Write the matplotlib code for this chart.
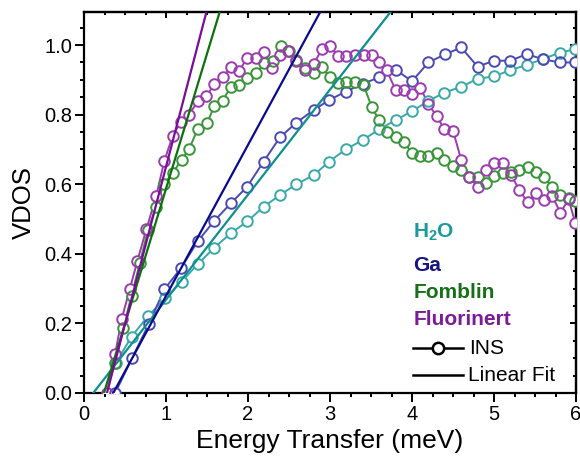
import matplotlib
matplotlib.use("Agg")
import matplotlib.pyplot as plt
from matplotlib.ticker import MultipleLocator
from matplotlib.lines import Line2D
import numpy as np

plt.rcParams['font.family'] = ['Liberation Sans', 'DejaVu Sans']
plt.rcParams['mathtext.fontset'] = 'custom'
plt.rcParams['mathtext.rm'] = 'Liberation Sans'
plt.rcParams['mathtext.bf'] = 'Liberation Sans:bold'

# INS data
h2o_e = [0.39, 0.58, 0.78, 0.99, 1.19, 1.39, 1.59, 1.79, 1.99, 2.19, 2.39, 2.59, 2.80, 2.99, 3.19,
         3.40, 3.60, 3.80, 4.00, 4.20, 4.39, 4.60, 4.80, 5.00, 5.20, 5.40, 5.60, 5.80, 5.99]
h2o_v = [0.087, 0.162, 0.221, 0.272, 0.32, 0.371, 0.418, 0.459, 0.493, 0.535, 0.569, 0.60, 0.626,
         0.665, 0.70, 0.727, 0.758, 0.784, 0.81, 0.839, 0.863, 0.88, 0.903, 0.91, 0.928, 0.943,
         0.96, 0.978, 0.988]

ga_e = [0.38, 0.59, 0.79, 0.98, 1.18, 1.39, 1.59, 1.79, 1.99, 2.19, 2.39, 2.59, 2.80, 2.99, 3.19,
        3.40, 3.60, 3.80, 4.00, 4.20, 4.40, 4.60, 4.80, 5.00, 5.20, 5.40, 5.60, 5.80, 5.99]
ga_v = [0.0, 0.102, 0.198, 0.298, 0.358, 0.437, 0.495, 0.545, 0.593, 0.665, 0.735, 0.777, 0.813,
        0.842, 0.866, 0.889, 0.907, 0.929, 0.896, 0.95, 0.973, 0.993, 0.938, 0.955, 0.955, 0.974,
        0.959, 0.95, 0.95]

fomblin_e = [0.38, 0.48, 0.58, 0.68, 0.78, 0.88, 0.97, 1.08, 1.19, 1.28, 1.39, 1.50, 1.59, 1.69,
             1.79, 1.89, 1.99, 2.10, 2.20, 2.30, 2.40, 2.50, 2.59, 2.70, 2.80, 2.90, 3.00, 3.10,
             3.20, 3.30, 3.41, 3.51, 3.60, 3.69, 3.80, 3.90, 4.00, 4.10, 4.20, 4.30, 4.39, 4.50,
             4.60, 4.70, 4.80, 4.90, 5.00, 5.11, 5.21, 5.31, 5.41, 5.51, 5.61, 5.71, 5.81, 5.91, 5.99]
fomblin_v = [0.085, 0.188, 0.28, 0.373, 0.468, 0.536, 0.60, 0.631, 0.671, 0.70, 0.76, 0.775, 0.825,
             0.84, 0.88, 0.885, 0.904, 0.919, 0.947, 0.955, 0.996, 0.983, 0.958, 0.935, 0.919,
             0.936, 0.907, 0.89, 0.895, 0.895, 0.885, 0.821, 0.784, 0.751, 0.737, 0.722, 0.689,
             0.681, 0.681, 0.69, 0.67, 0.652, 0.641, 0.622, 0.622, 0.604, 0.624, 0.631, 0.636,
             0.641, 0.65, 0.636, 0.622, 0.591, 0.569, 0.559, 0.551]

fluor_e = [0.28, 0.38, 0.46, 0.56, 0.65, 0.76, 0.88, 0.98, 1.08, 1.18, 1.28, 1.39, 1.49, 1.59,
           1.69, 1.79, 1.89, 1.99, 2.10, 2.20, 2.29, 2.39, 2.49, 2.59, 2.70, 2.80, 2.90, 3.00,
           3.10, 3.20, 3.30, 3.41, 3.51, 3.60, 3.69, 3.80, 3.90, 4.00, 4.10, 4.20, 4.30, 4.39,
           4.50, 4.60, 4.70, 4.80, 4.90, 5.00, 5.11, 5.21, 5.31, 5.41, 5.51, 5.61, 5.71, 5.81,
           5.91, 5.99]
fluor_v = [0.0, 0.112, 0.213, 0.30, 0.379, 0.47, 0.566, 0.667, 0.738, 0.78, 0.80, 0.839, 0.853,
           0.887, 0.908, 0.936, 0.924, 0.964, 0.962, 0.98, 0.933, 0.971, 0.983, 0.955, 0.927,
           0.945, 0.988, 0.996, 0.968, 0.968, 0.971, 0.971, 0.971, 0.95, 0.928, 0.871, 0.872,
           0.858, 0.878, 0.83, 0.796, 0.76, 0.754, 0.67, 0.622, 0.591, 0.641, 0.662, 0.662,
           0.626, 0.583, 0.548, 0.574, 0.556, 0.566, 0.518, 0.557, 0.489]

# linear fits: V = a + b*E
fit_a = [-0.034, -0.155, -0.189, -0.253]
fit_b = [0.302, 0.434, 0.776, 0.903]

names = [r'$\mathbf{H_2O}$', 'Ga', 'Fomblin', 'Fluorinert']
mk_col = ['#3aa8a8', '#4a4ab2', '#3a943a', '#9a3cae']
fit_col = ['#0e8f8f', '#0a0a8c', '#0a720a', '#7a0c98']
txt_col = ['#1a9a9a', '#15157f', '#177017', '#7b1c96']

series = [(h2o_e, h2o_v), (ga_e, ga_v), (fomblin_e, fomblin_v), (fluor_e, fluor_v)]

fig = plt.figure(figsize=(5.8, 4.63), dpi=100)
ax = fig.add_axes([84 / 580, 1 - 393 / 463, 492 / 580, 381 / 463])

ms = 7.6
# connecting lines
for (e, v), c in zip(series, mk_col):
    ax.plot(e, v, '-', color=c, lw=1.4, zorder=2)
# white discs so the lines stop at the circles
for (e, v) in series:
    ax.plot(e, v, 'o', ls='none', ms=ms, mfc='white', mec='none', zorder=3)
# open circles
for (e, v), c in zip(series, mk_col):
    ax.plot(e, v, 'o', ls='none', ms=ms, mfc='none', mec=c, mew=1.4, zorder=4)

# fit lines
for a, b, c in zip(fit_a, fit_b, fit_col):
    x0 = -a / b
    x1 = (1.12 - a) / b
    xs = np.array([x0, x1])
    ax.plot(xs, a + b * xs, '-', color=c, lw=1.6, zorder=5)

ax.set_xlim(0, 6)
ax.set_ylim(0, 1.095)
ax.xaxis.set_major_locator(MultipleLocator(1))
ax.xaxis.set_minor_locator(MultipleLocator(0.25))
ax.yaxis.set_major_locator(MultipleLocator(0.2))
ax.yaxis.set_minor_locator(MultipleLocator(0.05))
ax.yaxis.set_major_formatter(plt.FuncFormatter(lambda y, p: f'{y:.1f}'))
ax.tick_params(which='both', direction='out', width=1.4, labelsize=14.5)
ax.tick_params(which='major', length=6.5, pad=2)
ax.tick_params(which='minor', length=3)
for s in ax.spines.values():
    s.set_linewidth(1.6)

top = ax.secondary_xaxis('top')
top.xaxis.set_major_locator(MultipleLocator(1))
top.xaxis.set_minor_locator(MultipleLocator(0.25))
top.tick_params(which='both', direction='in', width=1.4, labeltop=False)
top.tick_params(which='major', length=4)
top.tick_params(which='minor', length=2.5)
top.spines['top'].set_linewidth(1.6)

right = ax.secondary_yaxis('right')
right.yaxis.set_major_locator(MultipleLocator(0.2))
right.yaxis.set_minor_locator(MultipleLocator(0.05))
right.tick_params(which='both', direction='in', width=1.4, labelright=False)
right.tick_params(which='major', length=4)
right.tick_params(which='minor', length=2.5)
right.spines['right'].set_linewidth(1.6)

ax.set_xlabel('Energy Transfer (meV)', fontsize=19, labelpad=4)
ax.set_ylabel('VDOS', fontsize=18.5, labelpad=6)

# legend built by hand
lx = 0.669
ys = [0.422, 0.335, 0.265, 0.192]
for name, c, y in zip(names, txt_col, ys):
    ax.text(lx, y, name, color=c, fontsize=15, fontweight='bold', va='center', ha='left',
            transform=ax.transAxes)

y_ins = 0.118
y_fit = 0.047
ax.add_line(Line2D([lx, lx + 0.102], [y_ins, y_ins], color='black', lw=1.8,
                   transform=ax.transAxes, zorder=6))
ax.add_line(Line2D([lx + 0.051], [y_ins], marker='o', ms=ms + 0.6, mfc='white', mec='black',
                   mew=1.8, transform=ax.transAxes, zorder=7))
ax.text(lx + 0.114, y_ins, 'INS', fontsize=15, va='center', ha='left', transform=ax.transAxes)
ax.add_line(Line2D([lx, lx + 0.102], [y_fit, y_fit], color='black', lw=1.8,
                   transform=ax.transAxes, zorder=6))
ax.text(lx + 0.112, y_fit, 'Linear Fit', fontsize=15, va='center', ha='left',
        transform=ax.transAxes)

fig.savefig('out.png', dpi=100)
